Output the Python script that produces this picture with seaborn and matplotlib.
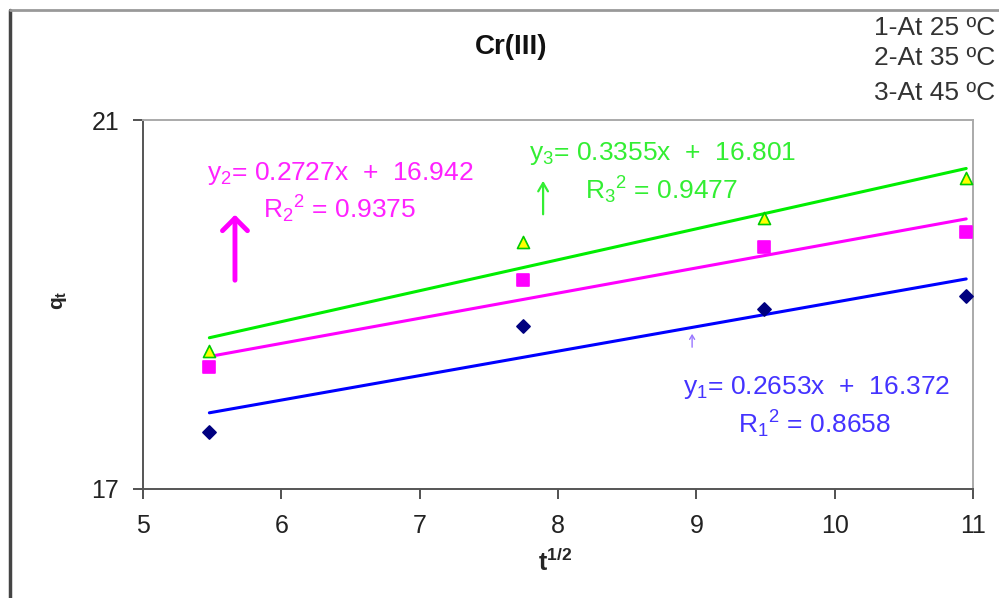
import numpy as np
import pandas as pd
import matplotlib
matplotlib.use("Agg")
import matplotlib.pyplot as plt
import seaborn as sns
from matplotlib.lines import Line2D

sns.set_style("white")
plt.rcParams['font.family'] = ['Liberation Sans', 'DejaVu Sans']
plt.rcParams['mathtext.fontset'] = 'custom'
plt.rcParams['mathtext.rm'] = 'Liberation Sans'
plt.rcParams['mathtext.bf'] = 'Liberation Sans:bold'
plt.rcParams['mathtext.default'] = 'regular'

# 数据 (t^1/2 与 q_t)
t_sqrt = [5.48, 7.75, 9.49, 10.95]
q_25 = [17.62, 18.77, 18.95, 19.09]
q_35 = [18.32, 19.27, 19.62, 19.79]
q_45 = [18.50, 19.68, 19.94, 20.37]

# 拟合方程
slopes = [0.2653, 0.2727, 0.3355]
intercepts = [16.372, 16.942, 16.801]
r2 = [0.8658, 0.9375, 0.9477]
series = ["1", "2", "3"]
temps = ["25", "35", "45"]

df = pd.DataFrame({
    "x": t_sqrt * 3,
    "q": q_25 + q_35 + q_45,
    "s": [s for s in series for _ in t_sqrt],
})

x_line = np.array([t_sqrt[0], t_sqrt[-1]])
fit = pd.DataFrame({
    "x": np.tile(x_line, 3),
    "q": np.concatenate([m * x_line + b for m, b in zip(slopes, intercepts)]),
    "s": [s for s in series for _ in x_line],
})

line_colors = {"1": "#0000ff", "2": "#ff00ff", "3": "#00ee00"}
text_colors = ["#4433ff", "#ff22ff", "#33ee33"]

fig = plt.figure(figsize=(9.99, 5.98), dpi=100)
ax = fig.add_axes([0.1431, 0.1823, 0.831, 0.617])

sns.lineplot(data=fit, x="x", y="q", hue="s", palette=line_colors, lw=2.2,
             legend=False, ax=ax)

marker_styles = {"1": ("D", "#000080", "#000080", 45),
                 "2": ("s", "#ff00ff", "#ff00ff", 70),
                 "3": ("^", "#ffff00", "#00cc00", 75)}
for s in series:
    m, fc, ec, sz = marker_styles[s]
    sns.scatterplot(data=df[df.s == s], x="x", y="q", marker=m, color=fc,
                    edgecolor=ec, linewidth=1.2, s=sz, ax=ax, zorder=3)

ax.set_xlim(5, 11)
ax.set_ylim(17, 21)
ax.set_xticks(range(5, 12))
ax.set_yticks([17, 21])
ax.tick_params(axis="both", labelsize=18, direction="out", length=7,
               width=1.2, color="#333333", labelcolor="#222222")
ax.tick_params(axis="x", bottom=True, pad=11)
ax.tick_params(axis="y", left=True, pad=10)
for side in ["left", "bottom"]:
    ax.spines[side].set_color("#555555")
    ax.spines[side].set_linewidth(1.4)
for side in ["top", "right"]:
    ax.spines[side].set_color("#aaaaaa")
    ax.spines[side].set_linewidth(1.4)
ax.set_xlabel("")
ax.set_ylabel("")

# 方程与箭头
eq_pos = [(8.904, 18.095, 9.301, 17.705), (5.463, 20.425, 5.868, 20.035),
          (7.790, 20.642, 8.195, 20.241)]
for i, (ex, ey, rx, ry) in enumerate(eq_pos):
    n = series[i]
    ax.text(ex, ey, f"y$_{n}$= {slopes[i]}x  +  {intercepts[i]}", color=text_colors[i],
            fontsize=19, ha="left", va="center")
    ax.text(rx, ry, f"R$_{n}$$^2$ = {r2[i]}", color=text_colors[i],
            fontsize=19, ha="left", va="center")

arrows = [(8.969, 18.507, 18.712, "#9977ff", 1.0, 0.3, 0.18),
          (5.665, 19.233, 20.003, "#ff00ff", 3.5, 0.9, 0.9),
          (7.892, 19.948, 20.371, "#33ee33", 1.6, 0.6, 0.35)]
for x0, y0, y1, c, lw, hl, hw in arrows:
    ax.annotate("", xy=(x0, y1), xytext=(x0, y0),
                arrowprops=dict(arrowstyle=f"->,head_length={hl},head_width={hw}",
                                color=c, lw=lw))

fig.text(0.5115, 0.921, "Cr(III)", fontsize=20, fontweight="bold",
         ha="center", va="center", color="#111111")
for yy, n, t in zip([0.953, 0.903, 0.844], series, temps):
    fig.text(0.996, yy, f"{n}-At {t} ºC", fontsize=19, ha="right",
             va="center", color="#333333")

fig.text(0.060, 0.498, r"q$_\mathbf{t}$", fontsize=15, fontweight="bold",
         rotation=90, ha="center", va="center")
fig.text(0.5556, 0.060, r"t$^\mathbf{1/2}$", fontsize=18, fontweight="bold",
         ha="center", va="center")

# 外框
fig.add_artist(Line2D([0.010, 0.010], [0.0, 0.983], transform=fig.transFigure,
                      color="#444444", lw=2.5))
fig.add_artist(Line2D([0.010, 1.0], [0.983, 0.983], transform=fig.transFigure,
                      color="#999999", lw=2.0))

fig.savefig("out.png", dpi=100)
